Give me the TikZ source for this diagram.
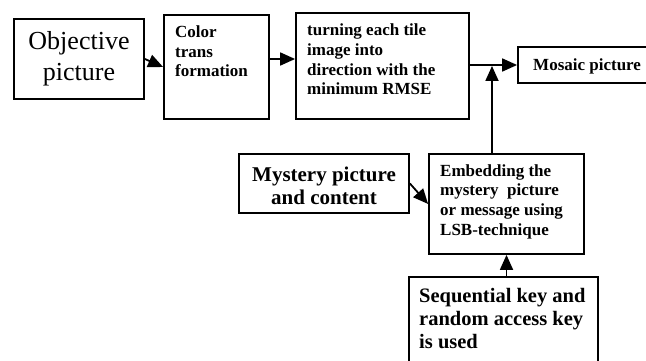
\documentclass[tikz,border=0pt]{standalone}
\usepackage{fontspec}
\setmainfont{Liberation Serif}
\usetikzlibrary{arrows.meta}
\begin{document}
\begin{tikzpicture}[x=1pt,y=-1pt,
  box/.style={draw=black, line width=1.8pt, inner sep=0pt, fill=none},
  arr/.style={line width=1.8pt, -{Triangle[length=15pt,width=13pt]}},
  txt/.style={inner sep=0pt, align=left, anchor=north west},
  small/.style={font=\bfseries\fontsize{17}{19.6}\selectfont},
  big/.style={font=\bfseries\fontsize{20.5}{23}\selectfont}]
\useasboundingbox (0,0) rectangle (646,361);
\clip (0,0) rectangle (646,361);
% boxes
\node[box, minimum width=130pt, minimum height=80pt] (obj) at (79,59) {};
\node[box, minimum width=105pt, minimum height=104pt] (color) at (216.5,67) {};
\node[box, minimum width=173pt, minimum height=106pt] (turn) at (382.5,66) {};
\node[box, minimum width=152pt, minimum height=36pt] (mosaic) at (594,65) {};
\node[box, minimum width=170pt, minimum height=59pt] (myst) at (324,183.5) {};
\node[box, minimum width=155pt, minimum height=100pt] (embed) at (506.5,204) {};
\node[box, minimum width=189pt, minimum height=110pt] (seq) at (503.5,332) {};
% texts
\node[inner sep=0pt, align=center, anchor=north, font=\fontsize{26}{30.7}\selectfont] (tobj) at (79,31.5) {Objective\\picture};
\node[txt, small] (tcolor) at (175,25.6) {Color\\trans\\formation};
\node[txt, small] (tturn) at (307,24) {turning each tile\\image into\\direction with the\\minimum RMSE};
\node[inner sep=0pt, anchor=base west, small] (tmosaic) at (533,71) {Mosaic picture};
\node[inner sep=0pt, align=center, anchor=north, big, font=\bfseries\fontsize{21}{23}\selectfont] (tmyst) at (324,167) {Mystery picture\\and content};
\node[txt, small] (tembed) at (440,164.3) {Embedding the\\mystery\ \ picture\\or message using\\LSB-technique};
\node[txt, big] (tseq) at (419,288) {Sequential key and\\random access key\\is used};
% connectors
\coordinate (j) at (492,66);
\draw[arr] (obj.east) -- (color.west);
\draw[arr] ([yshift=8pt]color.east) -- ([yshift=8pt]color.east -| turn.west);
\draw[arr] (turn.east |- mosaic.west) -- (mosaic.west);
\draw[arr] (embed.north -| j) -- (j);
\draw[arr] (myst.east) -- (embed.west);
\draw[arr] (seq.north -| embed.south) -- (embed.south);
\end{tikzpicture}
\end{document}
